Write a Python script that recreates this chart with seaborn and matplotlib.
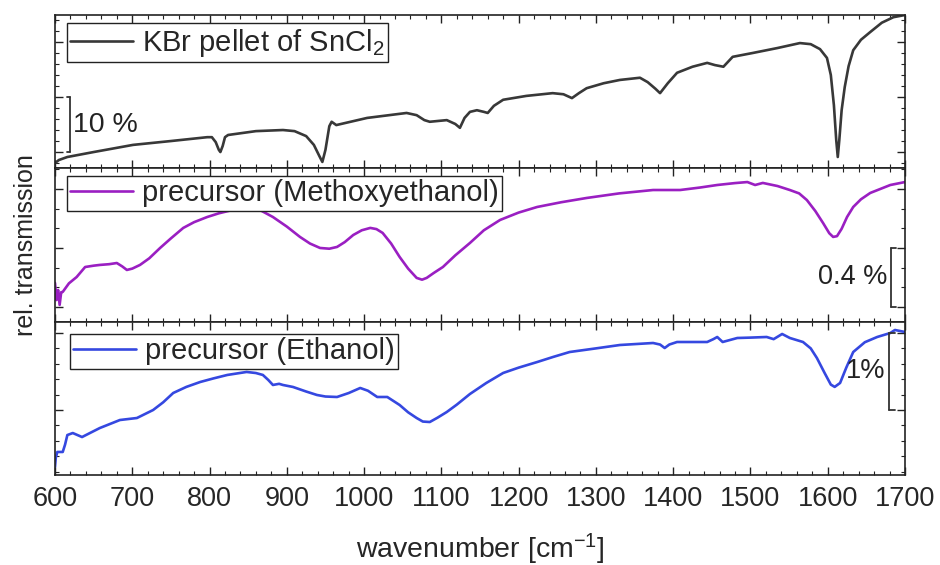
import matplotlib
matplotlib.use("Agg")
import matplotlib.pyplot as plt
import matplotlib.transforms as mtransforms
from matplotlib.ticker import MultipleLocator, AutoMinorLocator
import pandas as pd
import seaborn as sns

# --- spectra (wavenumber in cm^-1, relative transmission in %) ---
kbr_wn = [600, 605, 616, 650, 701, 750, 797, 803, 808, 812, 814, 817, 820,
          824, 860, 895, 910, 925, 935, 942, 946, 950, 955, 958, 964, 1004,
          1055, 1068, 1078, 1085, 1107, 1118, 1124, 1130, 1137, 1146, 1155,
          1160, 1168, 1180, 1210, 1244, 1258, 1269, 1278, 1288, 1310, 1331,
          1357, 1367, 1377, 1383, 1393, 1405, 1425, 1444, 1454, 1465, 1477,
          1503, 1535, 1564, 1578, 1590, 1599, 1604, 1608, 1611, 1613, 1615,
          1618, 1622, 1627, 1633, 1643, 1655, 1670, 1685, 1700]
kbr_t = [-2.0, -1.45, -0.9, 0.0, 1.3, 2.0, 2.7, 2.7, 1.8, 0.4, 0.0, 1.1, 2.7,
         3.1, 3.8, 4.0, 3.8, 2.9, 1.3, -0.7, -1.8, 0.4, 4.7, 5.5, 4.9, 6.2,
         7.1, 6.7, 5.8, 5.5, 5.8, 5.1, 4.4, 6.2, 7.3, 7.6, 7.3,
         7.1, 8.4, 9.5, 10.2, 10.7, 10.5, 9.8, 10.7, 11.6, 12.5, 13.1,
         13.5, 12.7, 11.5, 10.7, 12.5, 14.4, 15.5, 16.2, 15.8, 15.5, 17.3,
         18.0, 18.9, 19.8, 19.6, 18.7, 17.1, 14.0, 8.5, 2.2, -0.9, 2.2,
         7.6, 11.8, 15.6, 18.5, 20.4, 21.8, 23.5, 24.5, 24.9]

meo_wn = [600, 602, 604, 606, 608, 610, 618, 628, 639, 650, 658, 670, 680,
          687, 693, 700, 710, 722, 736, 750, 766, 780, 797, 812, 830, 848,
          865, 882, 900, 917, 930, 943, 955, 965, 975, 986, 997, 1008, 1016,
          1024, 1035, 1046, 1057, 1068, 1075, 1081, 1090, 1102, 1118, 1137,
          1155, 1176, 1200, 1224, 1255, 1288, 1330, 1374, 1409, 1435, 1457,
          1480, 1496, 1506, 1516, 1535, 1551, 1563, 1573, 1584, 1594, 1602,
          1607, 1612, 1618, 1625, 1633, 1643, 1655, 1668, 1681, 1700]
meo_t = [0.163, 0.047, 0.115, 0.014, 0.100, 0.102, 0.160, 0.203, 0.271, 0.280,
         0.285, 0.290, 0.298, 0.275, 0.251, 0.260, 0.285, 0.330, 0.400, 0.465,
         0.536, 0.575, 0.610, 0.635, 0.658, 0.665, 0.658, 0.610, 0.545, 0.475,
         0.430, 0.400, 0.395, 0.407, 0.440, 0.488, 0.520, 0.536, 0.528, 0.502,
         0.430, 0.339, 0.260, 0.197, 0.185, 0.197, 0.230, 0.271, 0.350, 0.434,
         0.520, 0.590, 0.640, 0.678, 0.710, 0.739, 0.770, 0.793, 0.793, 0.810,
         0.827, 0.840, 0.847, 0.827, 0.841, 0.820, 0.793, 0.770, 0.725, 0.650,
         0.569, 0.500, 0.475, 0.480, 0.530, 0.610, 0.678, 0.730, 0.773, 0.800,
         0.827, 0.847]

eth_wn = [600, 601, 603, 610, 613, 616, 623, 635, 645, 658, 684, 706, 727,
          740, 753, 770, 788, 805, 823, 848, 860, 869, 876, 882, 890, 895,
          908, 925, 939, 950, 965, 980, 995, 1005, 1017, 1030, 1046, 1057,
          1068, 1076, 1085, 1095, 1107, 1120, 1137, 1158, 1180, 1200, 1224,
          1245, 1266, 1300, 1331, 1374, 1383, 1389, 1395, 1405, 1444, 1452,
          1457, 1464, 1483, 1500, 1521, 1530, 1541, 1551, 1568, 1578, 1586,
          1596, 1604, 1609, 1616, 1624, 1633, 1648, 1664, 1681, 1687, 1700]
eth_t = [-0.740, -0.620, -0.545, -0.545, -0.450, -0.325, -0.299, -0.351,
         -0.300, -0.234, -0.130, -0.104, 0.000, 0.100, 0.221, 0.300, 0.364,
         0.410, 0.455, 0.494, 0.480, 0.455, 0.390, 0.325, 0.340, 0.325,
         0.299, 0.240, 0.195, 0.175, 0.169, 0.220, 0.286, 0.250, 0.169,
         0.169, 0.065, -0.030, -0.104, -0.150, -0.156, -0.100, -0.026, 0.070,
         0.208, 0.350, 0.481, 0.550, 0.623, 0.690, 0.753, 0.800, 0.844,
         0.870, 0.850, 0.805, 0.850, 0.883, 0.883, 0.920, 0.948, 0.883,
         0.935, 0.940, 0.948, 0.920, 0.987, 0.935, 0.883, 0.800, 0.675,
         0.480, 0.330, 0.300, 0.351, 0.550, 0.753, 0.880, 0.948, 1.000,
         1.039, 1.013]

labels = [r"KBr pellet of SnCl$_2$", "precursor (Methoxyethanol)",
          "precursor (Ethanol)"]
colors = ["#383838", "#9a1fc2", "#3548e0"]
scale_bars = [10, 0.4, 1.0]
scale_texts = ["10 %", "0.4 %", "1%"]

sns.set_theme(style="ticks")
plt.rcParams["font.family"] = ["Liberation Sans", "DejaVu Sans"]
plt.rcParams["mathtext.fontset"] = "custom"
plt.rcParams["mathtext.rm"] = "Liberation Sans"
plt.rcParams["mathtext.it"] = "Liberation Sans:italic"
plt.rcParams["mathtext.bf"] = "Liberation Sans:bold"
plt.rcParams["mathtext.default"] = "regular"

fig = plt.figure(figsize=(9.4, 5.65), dpi=100)
gs = fig.add_gridspec(3, 1, left=55 / 940, right=905 / 940,
                      top=1 - 15 / 565, bottom=1 - 475 / 565, hspace=0)
axes = [fig.add_subplot(gs[0])]
axes += [fig.add_subplot(gs[i], sharex=axes[0]) for i in (1, 2)]

series = [(kbr_wn, kbr_t), (meo_wn, meo_t), (eth_wn, eth_t)]
ylims = [(-2.96, 24.9), (-0.0997, 0.940), (-0.844, 1.147)]
ymajor = [10, 0.4, 1.0]
yminor = [5, 3, 5]
legend_anchor = [(0.0141, 0.945), (0.0141, 0.952), (0.0176, 0.922)]

for ax, (wn, t), lab, col, yl, ym, yn, anc in zip(
        axes, series, labels, colors, ylims, ymajor, yminor, legend_anchor):
    df = pd.DataFrame({"wavenumber": wn, "transmission": t})
    sns.lineplot(data=df, x="wavenumber", y="transmission", ax=ax,
                 color=col, lw=1.9, label=lab, sort=False, estimator=None)
    ax.set_xlim(600, 1700)
    ax.set_ylim(*yl)
    ax.set_xlabel("")
    ax.set_ylabel("")
    ax.xaxis.set_major_locator(MultipleLocator(100))
    ax.xaxis.set_minor_locator(MultipleLocator(20))
    ax.yaxis.set_major_locator(MultipleLocator(ym))
    ax.yaxis.set_minor_locator(AutoMinorLocator(yn))
    ax.tick_params(which="both", direction="in", top=True, right=True,
                   bottom=True, left=True, labelleft=False, color="#222222")
    ax.tick_params(which="major", length=6, width=1.0)
    ax.tick_params(which="minor", length=3, width=0.8)
    for sp in ax.spines.values():
        sp.set_linewidth(1.2)
        sp.set_color("#222222")
    leg = ax.legend(loc="upper left", bbox_to_anchor=anc, borderaxespad=0,
                    frameon=True, fancybox=False, edgecolor="#222222",
                    framealpha=1, fontsize=21, handlelength=2.15,
                    handletextpad=0.3, borderpad=0.12)
    leg.get_frame().set_linewidth(1.0)
    for h in leg.get_lines():
        h.set_linewidth(1.9)

for ax in axes[:2]:
    ax.tick_params(labelbottom=False)

axes[2].tick_params(axis="x", labelsize=19.5, pad=8)
axes[2].set_xlabel(r"wavenumber [cm$^{-1}$]", fontsize=20.5, labelpad=14)
axes[1].set_ylabel("rel. transmission", fontsize=18, labelpad=12)

# --- scale bars (x in axes fraction, y in data units) ---
bar_x = [0.0176, 0.9835, 0.981]
cap_dx = [-0.0035, 0.006, 0.007]
for ax, size, txt, bx, dx in zip(axes, scale_bars, scale_texts, bar_x, cap_dx):
    tr = mtransforms.blended_transform_factory(ax.transAxes, ax.transData)
    ax.plot([bx, bx], [0, size], transform=tr, color="#333333", lw=1.3,
            clip_on=False)
    for yy in (0, size):
        ax.plot([bx, bx + dx], [yy, yy], transform=tr, color="#333333",
                lw=1.3, clip_on=False)
    if dx < 0:
        ax.text(bx + 0.004, size / 2, txt, transform=tr, ha="left",
                va="center", fontsize=20.5, color="#222222")
    else:
        ax.text(bx - 0.004, size / 2, txt, transform=tr, ha="right",
                va="center", fontsize=19.5, color="#222222")

fig.savefig("out.png", dpi=100, facecolor="white")
